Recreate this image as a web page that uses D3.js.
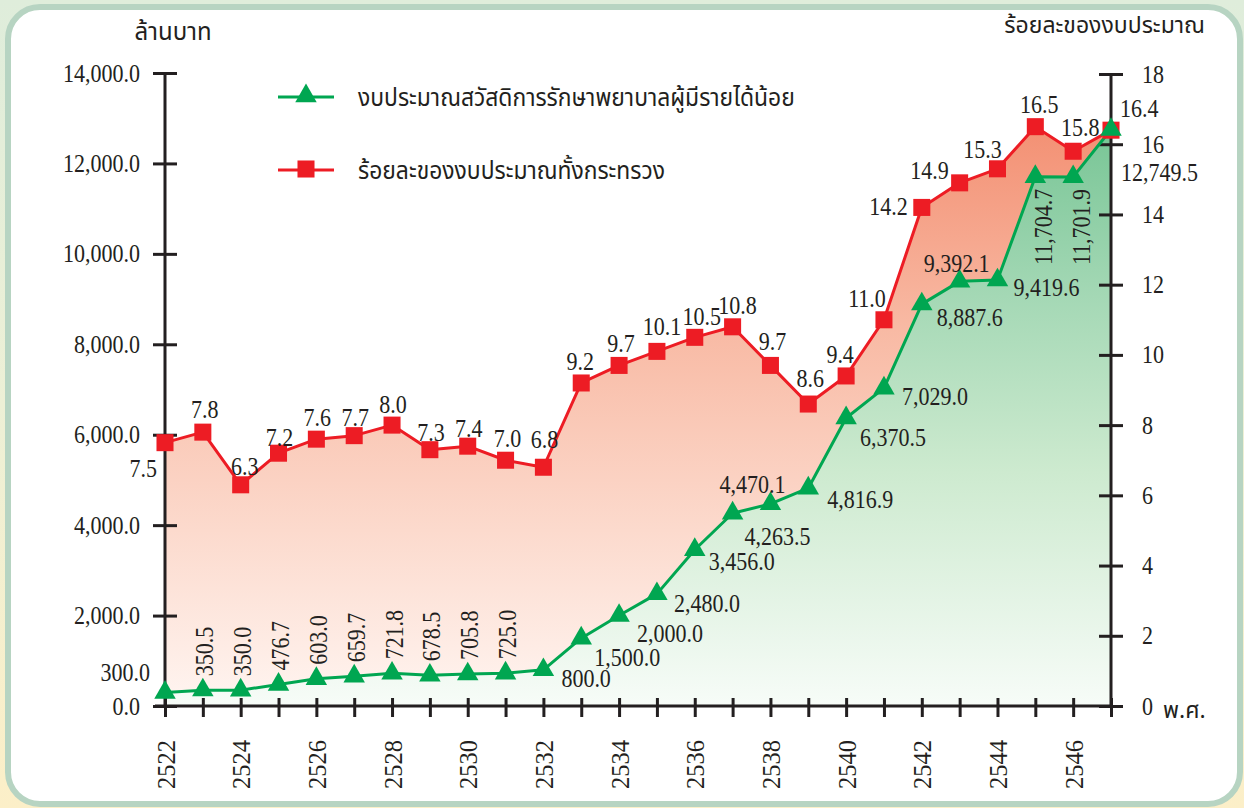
<!DOCTYPE html>
<html>
<head>
<meta charset="utf-8">
<script src="https://cdn.jsdelivr.net/npm/d3@7"></script>
<style>
  html, body { margin: 0; padding: 0; background: #fff; }
  svg { display: block; }
  .num { font-family: "Liberation Serif", "DejaVu Serif", serif; font-size: 25px; fill: #231f20; }
  .thai { font-family: "Noto Sans Thai", "Noto Sans Thai Looped", "Loma", "Garuda", "Noto Sans", sans-serif; fill: #231f20; }
  .axis path, .axis line { stroke: #231f20; stroke-width: 3; }
</style>
</head>
<body>
<svg id="chart" width="1244" height="808"></svg>
<script>
// data
const years = [2522, 2523, 2524, 2525, 2526, 2527, 2528, 2529, 2530, 2531, 2532, 2533, 2534,
  2535, 2536, 2537, 2538, 2539, 2540, 2541, 2542, 2543, 2544, 2545, 2546, 2547];
const budget = [300.0, 350.5, 350.0, 476.7, 603.0, 659.7, 721.8, 678.5, 705.8, 725.0, 800.0,
  1500.0, 2000.0, 2480.0, 3456.0, 4263.5, 4470.1, 4816.9, 6370.5, 7029.0, 8887.6, 9392.1,
  9419.6, 11704.7, 11701.9, 12749.5];
const percent = [7.5, 7.8, 6.3, 7.2, 7.6, 7.7, 8.0, 7.3, 7.4, 7.0, 6.8, 9.2, 9.7, 10.1, 10.5,
  10.8, 9.7, 8.6, 9.4, 11.0, 14.2, 14.9, 15.3, 16.5, 15.8, 16.4];
const leftTicks = [0, 2000, 4000, 6000, 8000, 10000, 12000, 14000];
const rightTicks = [0, 2, 4, 6, 8, 10, 12, 14, 16, 18];
const yearLabels = [2522, 2524, 2526, 2528, 2530, 2532, 2534, 2536, 2538, 2540, 2542, 2544, 2546];
const seriesNames = ['งบประมาณสวัสดิการรักษาพยาบาลผู้มีรายได้น้อย', 'ร้อยละของงบประมาณทั้งกระทรวง'];

// label placement: [anchor, dx, dy, rotated]
const budgetPlace = [
  ['end', -15, -11, false],
  ['start', 2, -14, true], ['start', 2, -14, true], ['start', 2, -14, true],
  ['start', 2, -14, true], ['start', 2, -14, true], ['start', 2, -14, true],
  ['start', 2, -14, true], ['start', 2, -14, true], ['start', 2, -14, true],
  ['start', 18, 17, false], ['start', 13, 28, false], ['start', 18, 26, false],
  ['start', 17, 18, false], ['start', 14, 20, false], ['start', 12, 32, false],
  ['end', 15, -11, false], ['start', 19, 20, false], ['start', 14, 28, false],
  ['start', 18, 17, false], ['start', 15, 22, false], ['middle', -3, -9, false],
  ['start', 16, 16, false], ['end', 8, 12, true], ['end', 8, 12, true],
  ['start', 10, 51, false]
];
const percentPlace = [
  ['end', -8, 34], ['middle', 2, -14], ['middle', 4, -10], ['middle', 1, -7],
  ['middle', 1, -13], ['middle', 1, -10], ['middle', 1, -12], ['middle', 1, -9],
  ['middle', 1, -9], ['middle', 2, -13], ['middle', 1, -19], ['middle', -1, -13],
  ['middle', 2, -13], ['middle', 5, -16], ['middle', 7, -12], ['middle', 5, -13],
  ['middle', 2, -15], ['middle', 2, -17], ['middle', -6, -13], ['middle', -17, -13],
  ['end', -14, 8], ['end', -11, -4], ['middle', -15, -11], ['middle', 4, -14],
  ['middle', 7, -15], ['start', 9, -13]
];

const NARROW = 0.88;
const fmtBudget = d3.format(',.1f');

const svg = d3.select('#chart');
const defs = svg.append('defs');

function addGradient(id, stops, y1, y2) {
  const g = defs.append('linearGradient')
    .attr('id', id)
    .attr('gradientUnits', 'userSpaceOnUse')
    .attr('x1', 0).attr('x2', 0)
    .attr('y1', y1).attr('y2', y2);
  stops.forEach(function(s) {
    g.append('stop').attr('offset', s[0]).attr('stop-color', s[1]);
  });
}

addGradient('bg', [[0, '#dfeddb'], [0.5, '#edf0d6'], [1, '#fcefc8']], 0, 808);
addGradient('redFill', [[0, '#f38f72'], [0.35, '#f8b9a3'], [0.7, '#fcdacd'], [1, '#fff5f1']], 120, 706);
addGradient('greenFill', [[0, '#76c494'], [0.3, '#a4d8b5'], [0.6, '#cdeacf'], [1, '#f7fcf8']], 120, 706);

// frame
svg.append('rect').attr('width', 1244).attr('height', 808).attr('fill', 'url(#bg)');
svg.append('rect')
  .attr('x', 8).attr('y', 7).attr('width', 1232).attr('height', 797)
  .attr('rx', 32)
  .attr('fill', '#fff')
  .attr('stroke', '#b7d4c2')
  .attr('stroke-width', 6);

const margin = {left: 165, right: 1111, top: 73, bottom: 706};

const x = d3.scaleLinear().domain([years[0], years[years.length - 1]]).range([margin.left, margin.right]);
const yLeft = d3.scaleLinear().domain([0, 14000]).range([margin.bottom, margin.top]);
const yRight = d3.scaleLinear().domain([0, 18]).range([margin.bottom, margin.top + 1]);

// areas
const redArea = d3.area()
  .x(function(d, i) { return x(years[i]); })
  .y0(margin.bottom)
  .y1(function(d) { return yRight(d); });
const greenArea = d3.area()
  .x(function(d, i) { return x(years[i]); })
  .y0(margin.bottom)
  .y1(function(d) { return yLeft(d); });

svg.append('path').attr('d', redArea(percent)).attr('fill', 'url(#redFill)');
svg.append('path').attr('d', greenArea(budget)).attr('fill', 'url(#greenFill)');

// axes
const leftAxis = svg.append('g')
  .attr('class', 'axis')
  .attr('transform', 'translate(' + margin.left + ',0)')
  .call(d3.axisLeft(yLeft).tickValues(leftTicks).tickSize(12).tickSizeOuter(0).tickFormat(''));
leftAxis.selectAll('.tick line').attr('x1', 12);
leftAxis.select('.domain').attr('d', 'M0,' + margin.bottom + 'V' + margin.top);

const rightAxis = svg.append('g')
  .attr('class', 'axis')
  .attr('transform', 'translate(' + margin.right + ',0)')
  .call(d3.axisRight(yRight).tickValues(rightTicks).tickSize(12).tickSizeOuter(0).tickFormat(''));
rightAxis.selectAll('.tick line').attr('x1', -12);
rightAxis.select('.domain').attr('d', 'M0,' + margin.bottom + 'V' + (margin.top + 1));

const bottomAxis = svg.append('g')
  .attr('class', 'axis')
  .attr('transform', 'translate(0,' + margin.bottom + ')')
  .call(d3.axisBottom(x).tickValues(years).tickSize(11).tickSizeOuter(0).tickFormat(''));
bottomAxis.selectAll('.tick line').attr('y1', -8);
bottomAxis.select('.domain').attr('d', 'M' + (margin.left - 10) + ',0H' + margin.right);

// tick labels (narrow numerals)
svg.append('g').selectAll('text')
  .data(leftTicks)
  .join('text')
  .attr('class', 'num')
  .attr('text-anchor', 'end')
  .attr('dy', '0.34em')
  .attr('transform', function(d) { return 'translate(' + (margin.left - 25) + ',' + yLeft(d) + ') scale(' + NARROW + ',1)'; })
  .text(fmtBudget);

svg.append('g').selectAll('text')
  .data(rightTicks)
  .join('text')
  .attr('class', 'num')
  .attr('dy', '0.34em')
  .attr('transform', function(d) { return 'translate(' + (margin.right + 31) + ',' + yRight(d) + ') scale(' + NARROW + ',1)'; })
  .text(function(d) { return d; });

svg.append('g').selectAll('text')
  .data(yearLabels)
  .join('text')
  .attr('class', 'num')
  .attr('text-anchor', 'end')
  .attr('dominant-baseline', 'central')
  .attr('transform', function(d) { return 'translate(' + (x(d) + 1) + ',740) rotate(-90) scale(0.98,1)'; })
  .text(function(d) { return d; });

// lines
const redLine = d3.line()
  .x(function(d, i) { return x(years[i]); })
  .y(function(d) { return yRight(d); });
const greenLine = d3.line()
  .x(function(d, i) { return x(years[i]); })
  .y(function(d) { return yLeft(d); });

svg.append('path').attr('d', redLine(percent)).attr('fill', 'none')
  .attr('stroke', '#ed1c24').attr('stroke-width', 3).attr('stroke-linejoin', 'round');
svg.append('path').attr('d', greenLine(budget)).attr('fill', 'none')
  .attr('stroke', '#00a651').attr('stroke-width', 3).attr('stroke-linejoin', 'round');

const square = d3.symbol().type(d3.symbolSquare).size(290);
const triangle = d3.symbol().type(d3.symbolTriangle).size(200);

svg.append('g').selectAll('path')
  .data(percent)
  .join('path')
  .attr('d', square)
  .attr('fill', '#ed1c24')
  .attr('transform', function(d, i) { return 'translate(' + x(years[i]) + ',' + yRight(d) + ')'; });

svg.append('g').selectAll('path')
  .data(budget)
  .join('path')
  .attr('d', triangle)
  .attr('fill', '#00a651')
  .attr('transform', function(d, i) { return 'translate(' + x(years[i]) + ',' + yLeft(d) + ')'; });

// value labels
svg.append('g').selectAll('text')
  .data(percent)
  .join('text')
  .attr('class', 'num')
  .attr('text-anchor', function(d, i) { return percentPlace[i][0]; })
  .attr('transform', function(d, i) {
    const p = percentPlace[i];
    return 'translate(' + (x(years[i]) + p[1]) + ',' + (yRight(d) + p[2]) + ') scale(' + NARROW + ',1)';
  })
  .text(function(d) { return d.toFixed(1); });

svg.append('g').selectAll('text')
  .data(budget)
  .join('text')
  .attr('class', 'num')
  .attr('text-anchor', function(d, i) { return budgetPlace[i][0]; })
  .attr('dominant-baseline', function(d, i) { return budgetPlace[i][3] ? 'central' : null; })
  .attr('transform', function(d, i) {
    const p = budgetPlace[i];
    const px = x(years[i]) + p[1];
    const py = yLeft(d) + p[2];
    return 'translate(' + px + ',' + py + ')' + (p[3] ? ' rotate(-90)' : '') + ' scale(' + NARROW + ',1)';
  })
  .text(function(d) { return fmtBudget(d); });

// titles
svg.append('text').attr('class', 'thai').attr('x', 173).attr('y', 40)
  .attr('text-anchor', 'middle').attr('font-size', 24).text('ล้านบาท');
svg.append('text').attr('class', 'thai').attr('x', 1205).attr('y', 33)
  .attr('text-anchor', 'end').attr('font-size', 23).text('ร้อยละของงบประมาณ');
svg.append('text').attr('class', 'thai').attr('x', 1163).attr('y', 718)
  .attr('font-size', 23).text('พ.ศ.');

// legend
const legend = svg.append('g');
const legendRows = [
  {name: seriesNames[0], color: '#00a651', symbol: triangle, y: 97},
  {name: seriesNames[1], color: '#ed1c24', symbol: square, y: 170}
];
legendRows.forEach(function(r) {
  legend.append('line').attr('x1', 278).attr('x2', 334).attr('y1', r.y).attr('y2', r.y)
    .attr('stroke', r.color).attr('stroke-width', 3);
  legend.append('path').attr('d', r.symbol).attr('fill', r.color)
    .attr('transform', 'translate(306,' + (r.y - 1) + ')');
  legend.append('text').attr('class', 'thai').attr('font-size', 25)
    .attr('transform', 'translate(358,' + (r.y + 9) + ') scale(0.915,1)')
    .text(r.name);
});
</script>
</body>
</html>
